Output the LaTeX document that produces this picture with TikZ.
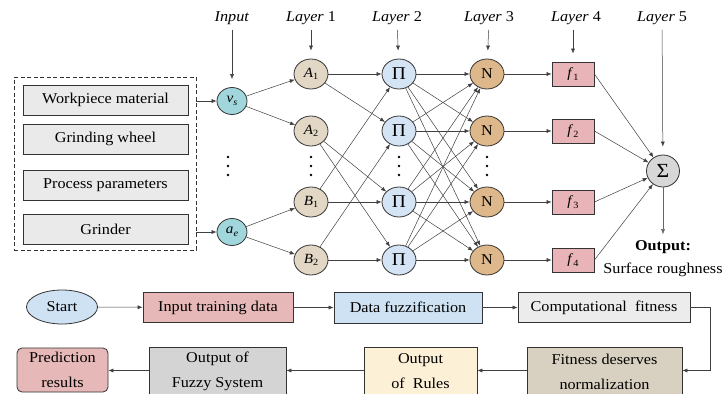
\documentclass[tikz,border=0pt]{standalone}
\usepackage{fontspec}
\setmainfont{Liberation Serif}[FakeStretch=1.08]
\usetikzlibrary{shapes.geometric,arrows.meta}
\definecolor{boxgray}{RGB}{234,234,234}
\definecolor{incyan}{RGB}{160,214,220}
\definecolor{beige}{RGB}{226,215,197}
\definecolor{piblue}{RGB}{212,228,245}
\definecolor{ntan}{RGB}{222,184,138}
\definecolor{fpink}{RGB}{232,180,184}
\definecolor{sgray}{RGB}{215,215,215}
\definecolor{stblue}{RGB}{207,226,243}
\definecolor{trpink}{RGB}{230,184,183}
\definecolor{cfgray}{RGB}{236,236,236}
\definecolor{taupe}{RGB}{216,208,192}
\definecolor{cream}{RGB}{252,240,214}
\definecolor{fzgray}{RGB}{212,212,212}
\newcommand\sbs[1]{\raisebox{-0.4ex}{\fontsize{9.5}{9.5}\selectfont #1}}
\tikzset{
  conn/.style={draw=black!75, line width=0.5pt, -{Latex[length=5pt,width=4pt]}},
  circ/.style={ellipse, draw=black!80, line width=0.8pt, minimum width=34pt, minimum height=30pt, inner sep=0pt, font=\fontsize{14}{14}\selectfont},
  inbox/.style={rectangle, draw=black!80, line width=0.8pt, fill=boxgray, minimum width=165pt, minimum height=30pt, inner sep=0pt},
  fnbox/.style={rectangle, draw=black!80, line width=0.8pt, fill=fpink, minimum width=42pt, minimum height=24pt, inner sep=0pt, font=\fontsize{14}{14}\selectfont},
  flow/.style={rectangle, draw=black!80, line width=0.8pt, inner sep=0pt, align=center, font=\fontsize{15}{25}\selectfont},
  lbl/.style={inner sep=2pt, font=\fontsize{15}{16}\selectfont},
  lblarrow/.style={conn, shorten >=8pt, shorten <=3pt}
}
\begin{document}
\begin{tikzpicture}[x=1pt,y=-1pt, font=\fontsize{15}{17}\selectfont]
\clip (0,0) rectangle (724,394);
\fill[white] (0,0) rectangle (724,394);

% input panel
\node[draw=black!80, line width=0.8pt, dash pattern=on 4pt off 2.5pt, minimum width=182pt, minimum height=173pt, inner sep=0pt] (dbox) at (105,163.5) {};
\node[inbox] (wm) at (105.5,100) {Workpiece material};
\node[inbox] (gw) at (105.5,139) {Grinding wheel};
\node[inbox] (pp) at (105.5,185) {Process parameters};
\node[inbox] (gr) at (105.5,229) {Grinder};

% input nodes
\node[circ, fill=incyan, minimum width=30pt, minimum height=27pt] (vs) at (232,101) {\textit{v}\sbs{\textit{s}}};
\node[circ, fill=incyan, minimum width=30pt, minimum height=27pt] (ae) at (232,232) {\textit{a}\sbs{\textit{e}}};

% layer 1
\node[circ, fill=beige] (a1) at (311,74) {\textit{A}\sbs{1}};
\node[circ, fill=beige] (a2) at (311,131) {\textit{A}\sbs{2}};
\node[circ, fill=beige] (b1) at (311,202) {\textit{B}\sbs{1}};
\node[circ, fill=beige] (b2) at (311,260) {\textit{B}\sbs{2}};

% layers 2-4
\foreach \i/\y in {1/74,2/131,3/202,4/260}{
  \node[circ, fill=piblue, font=\fontsize{18}{18}\selectfont] (p\i) at (399,\y) {Π};
  \node[circ, fill=ntan, font=\fontsize{15}{15}\selectfont] (n\i) at (487,\y) {N};
  \node[fnbox] (f\i) at (573,\y) {\textit{f}\sbs{\i}};
}
% layer 5
\node[circ, fill=sgray, minimum width=33pt, minimum height=32pt, font=\fontsize{20}{20}\selectfont] (sig) at (663,171) {Σ};

% dots
\foreach \x in {228,311,399,487}{
  \foreach \y in {157,166,175}{
    \fill (\x,\y) circle (1.4pt);
  }
}

% labels
\node[lbl] (linp) at (232,18) {\textit{Input}};
\node[lbl] (l1) at (311,18) {\textit{Layer} 1};
\node[lbl] (l2) at (397,18) {\textit{Layer} 2};
\node[lbl] (l3) at (489,18) {\textit{Layer} 3};
\node[lbl] (l4) at (576,18) {\textit{Layer} 4};
\node[lbl] (l5) at (662,18) {\textit{Layer} 5};
\draw[lblarrow] (linp) -- (vs);
\draw[lblarrow] (l1) -- (a1);
\draw[lblarrow] (l2) -- (p1);
\draw[lblarrow] (l3) -- (n1);
\draw[lblarrow] (l4.south -| f1) -- (f1);
\draw[lblarrow] (l5) -- (sig);

% output
\node[inner sep=1pt, font=\fontsize{15}{17}\selectfont\bfseries] (out1) at (663,247) {Output:};
\node[inner sep=1pt] (out2) at (663,270) {Surface roughness};
\draw[conn, shorten >=5pt, draw=black!60] (sig) -- (out1);

% connections
\draw[conn] (dbox.east |- vs) -- (vs);
\draw[conn] (dbox.east |- ae) -- (ae);
\draw[conn] (vs) -- (a1);
\draw[conn] (vs) -- (a2);
\draw[conn] (ae) -- (b1);
\draw[conn] (ae) -- (b2);
\draw[conn] (a1) -- (p1);
\draw[conn] (a1) -- (p2);
\draw[conn] (a2) -- (p3);
\draw[conn] (a2) -- (p4);
\draw[conn] (b1) -- (p1);
\draw[conn] (b1) -- (p3);
\draw[conn] (b2) -- (p2);
\draw[conn] (b2) -- (p4);
\foreach \i in {1,...,4}{
  \foreach \j in {1,...,4}{
    \draw[conn] (p\i) -- (n\j);
  }
  \draw[conn] (n\i) -- (f\i);
  \draw[conn] (f\i.east) -- (sig);
}

% flowchart
\node[ellipse, draw=black!80, line width=0.8pt, fill=stblue, minimum width=71pt, minimum height=34pt, inner sep=0pt] (start) at (62,307) {Start};
\node[flow, fill=trpink, minimum width=150pt, minimum height=30pt] (itd) at (218,307.5) {Input training data};
\node[flow, fill=stblue, minimum width=148pt, minimum height=31pt] (dfz) at (408,307.5) {Data fuzzification};
\node[flow, fill=cfgray, minimum width=172pt, minimum height=30pt] (cfit) at (604,307.5) {Computational\ \ fitness};
\node[flow, fill=taupe, minimum width=155pt, minimum height=48pt] (fdn) at (604.5,371.5) {Fitness deserves\\normalization};
\node[flow, fill=cream, minimum width=113pt, minimum height=48pt] (ofr) at (420.5,371.5) {Output\\of\ \ Rules};
\node[flow, fill=fzgray, minimum width=137pt, minimum height=48pt] (ofs) at (217.5,371.5) {Output of\\Fuzzy System};
\node[flow, fill=trpink, rounded corners=5pt, minimum width=91pt, minimum height=44pt] (pred) at (62.5,370) {Prediction\\results};

\draw[conn] (start) -- (itd);
\draw[conn] (itd) -- (dfz);
\draw[conn] (dfz) -- (cfit);
\draw[conn] (cfit.east) -- ++(20,0) |- ([yshift=1pt]fdn.east);
\draw[conn] ([yshift=1pt]fdn.west) -- ([yshift=1pt]ofr.east);
\draw[conn] ([yshift=1pt]ofr.west) -- ([yshift=1pt]ofs.east);
\draw[conn] ([yshift=1pt]ofs.west) -- ([yshift=1pt]ofs.west -| pred.east);
\end{tikzpicture}
\end{document}
